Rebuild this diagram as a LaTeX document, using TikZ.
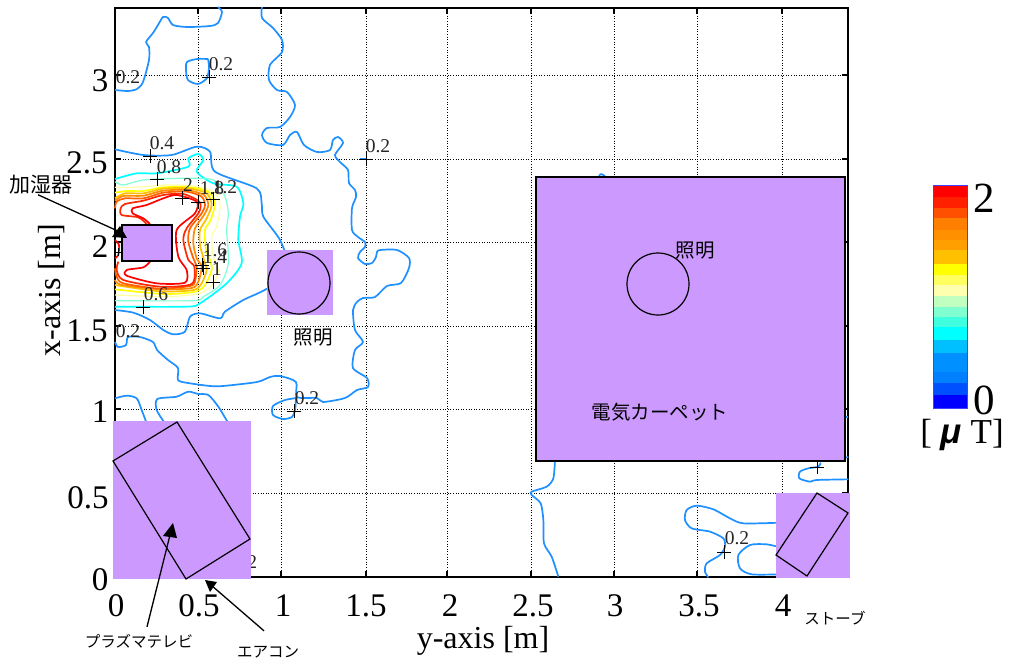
\documentclass[tikz,border=0pt]{standalone}
\usepackage{fontspec}
\setmainfont{Liberation Serif}
\newfontfamily\cjk{Noto Sans CJK JP}
\definecolor{pur}{HTML}{CC99FF}
\definecolor{cA}{HTML}{1E90FF}
\definecolor{cB}{HTML}{00FFFF}
\definecolor{cC}{HTML}{7FFFD4}
\definecolor{cD}{HTML}{FFFFA0}
\definecolor{cE}{HTML}{FFFF00}
\definecolor{cF}{HTML}{FFC000}
\definecolor{cG}{HTML}{FF8C00}
\definecolor{cH}{HTML}{FF6000}
\definecolor{cI}{HTML}{FF2800}
\definecolor{cJ}{HTML}{FF0000}
\tikzset{
 griddot/.style={black,line width=.9pt,dash pattern=on .9pt off 1.7pt},
 frameln/.style={black,line width=1.8pt},
 tickln/.style={black,line width=1.3pt},
 contour/.style={line width=1.7pt,line join=round},
 thincont/.style={line width=1.2pt,line join=round},
 objbox/.style={draw=black,line width=1.3pt,fill=pur},
 objfree/.style={fill=pur,draw=none},
 objline/.style={draw=black,line width=1.2pt},
 ticklab/.style={font=\fontsize{33}{33}\selectfont,inner sep=0pt},
 axlab/.style={font=\fontsize{32}{32}\selectfont,inner sep=0pt},
 vallab/.style={font=\fontsize{19.5}{19.5}\selectfont,inner sep=0pt,text=black!85},
 jplab/.style={font=\cjk\fontsize{19.5}{20}\selectfont,inner sep=0pt,text=black},
 jpsmall/.style={font=\cjk\fontsize{15.5}{16}\selectfont,inner sep=0pt,text=black},
 arrln/.style={black,line width=1.3pt},
 z1/.style={x=.33333pt,y=-.33333pt,shift={(0pt,-130pt)}},
 z3/.style={x=.33333pt,y=-.33333pt,shift={(100pt,-300pt)}},
 z5/.style={x=.33333pt,y=-.33333pt,shift={(520pt,-440pt)}},
 z10/.style={x=.33333pt,y=-.33333pt,shift={(780pt,-300pt)}},
}
\newcommand{\curve}[2]{\draw[contour,#1] plot[smooth,tension=.45] coordinates {#2};}
\newcommand{\curvet}[2]{\draw[thincont,#1] plot[smooth,tension=.45] coordinates {#2};}
\begin{document}
\begin{tikzpicture}[x=1pt,y=-1pt]
\useasboundingbox (0,0) rectangle (1010,662);
\fill[white] (0,0) rectangle (1010,662);
% grid
\foreach \gx in {198,281,366,447,531,614,697,782}{
  \draw[griddot] (\gx,8) -- (\gx,577);
  \draw[tickln] (\gx,8) -- (\gx,14);
  \draw[tickln] (\gx,577) -- (\gx,571);
}
\foreach \gy in {75,159,242,326,409,493}{
  \draw[griddot] (115,\gy) -- (848,\gy);
  \draw[tickln] (115,\gy) -- (121,\gy);
  \draw[tickln] (848,\gy) -- (842,\gy);
}
\draw[frameln] (115,8) rectangle (848,577);
% 0.2 contours, upper and centre
\curve{cA}{(115,90)(128,91)(137,89)(143,82)(149,60)(149,47)(146,42)(153,33)(158,25)(163,17)(168,18)(173,25)(187,27)(210,26)(218,23)(222,12)(218,7)}
\curve{cA}{(208,59)(197,59)(187,62)(186,70)(188,80)(198,84)(207,78)(209,67)(208,59)}
\curve{cA}{(262,7)(262,18)(273,28)(282,40)(282,52)(270,65)(269,80)(277,90)(287,92)(295,105)(290,117)(280,127)(267,128)(262,135)(267,143)(283,145)(290,135)(297,132)(304,145)(317,152)(330,150)(333,140)(338,137)(343,143)(335,155)(340,162)(348,170)(349,183)(355,190)(356,197)(352,208)(352,230)(358,237)(365,242)(365,247)(360,252)(358,258)(365,264)(372,263)(376,257)(377,252)(380,250)(397,250)(409,258)(409,268)(401,283)(387,286)(375,297)(363,298)(357,302)(353,310)(355,330)(363,342)(355,350)(353,368)(367,378)(368,387)(357,390)(345,398)(323,402)(317,398)(297,397)(296,382)(280,376)(270,377)(257,382)(223,386)(210,386)(188,383)(178,380)(178,368)(168,360)(157,350)(153,342)(140,337)(128,337)(126,345)(118,347)(115,342)}
\curve{cA}{(297,398)(285,400)(273,406)(273,415)(283,419)(292,417)(295,410)(296,398)}
\curve{cA}{(360,159)(366,159)}
\curve{cA}{(599,176)(601,174)(605,176)}
% left field contours
\begin{scope}[z1]
\curve{cA}{(345,58)(430,75)(515,75)(590,50)(630,65)(645,125)(770,175)(785,220)(790,260)(840,330)(860,400)(810,470)(730,510)(675,545)(660,565)(600,550)(570,560)(555,605)(520,613)(490,600)(450,570)(400,548)(345,540)}
\curve{cB}{(345,147)(410,130)(470,130)(565,110)(565,85)(595,72)(610,90)(590,125)(640,160)(710,170)(730,220)(720,260)(715,330)(725,400)(680,460)(600,520)(560,530)(345,530)}
\curvet{cC}{(345,155)(370,165)(430,150)(540,145)(640,150)(675,200)(685,250)(680,300)(685,400)(660,465)(610,500)(580,512)(345,512)}
\curvet{cD}{(345,172)(400,172)(500,165)(580,168)(640,185)(660,225)(650,290)(635,320)(640,380)(655,420)(640,460)(600,490)(500,500)(345,495)}
\curve{cE}{(345,188)(380,183)(430,183)(490,172)(570,172)(625,185)(645,220)(632,270)(615,300)(618,360)(630,390)(635,420)(615,465)(585,485)(490,492)(345,478)}
\curve{cF}{(345,205)(375,190)(430,190)(490,176)(565,175)(620,190)(635,225)(620,265)(600,300)(600,345)(612,390)(620,420)(605,460)(580,480)(480,484)(345,465)}
\curve{cG}{(345,212)(370,198)(430,197)(490,182)(560,180)(612,195)(625,225)(612,255)(585,295)(580,340)(590,385)(605,410)(595,455)(575,474)(480,478)(365,465)(345,450)}
\curve{cH}{(345,235)(350,215)(375,205)(430,205)(490,188)(560,185)(605,200)(615,225)(605,250)(570,295)(565,335)(580,385)(590,410)(585,455)(570,468)(480,476)(370,460)(350,440)(345,415)}
\curve{cI}{(440,282)(415,262)(365,255)(362,235)(375,222)(430,212)(490,195)(550,192)(598,215)(598,245)(560,295)(550,330)(565,390)(583,410)(575,462)(480,470)(370,450)(350,420)(355,395)}
\curve{cJ}{(450,282)(430,265)(398,250)(398,235)(440,225)(490,205)(530,195)(590,215)(585,250)(530,300)(535,380)(560,420)(555,458)(470,460)(380,437)(380,420)(430,412)(450,395)}
\curve{cJ}{(345,330)(357,345)(355,375)(345,385)}
\end{scope}
% lower left
\begin{scope}[z3]
\curve{cA}{(45,295)(80,287)(110,295)(125,330)(140,370)}
\curve{cA}{(195,370)(170,330)(172,297)(230,290)(265,275)(295,282)(325,285)(355,320)(385,370)}
\end{scope}
% lower right
\begin{scope}[z5]
\curve{cA}{(105,60)(100,115)(80,140)(35,155)(35,165)(62,190)(70,240)(72,310)(95,350)(115,410)}
\curve{cA}{(780,248)(670,250)(630,235)(580,208)(530,197)(500,210)(495,240)(515,265)(570,275)(610,295)(615,320)(600,345)(560,370)(555,395)(565,412)}
\curve{cA}{(780,322)(740,313)(690,315)(655,345)(660,385)(695,403)(780,403)}
\end{scope}
\begin{scope}[z10]
\curve{cA}{(122,488)(115,500)(85,505)(60,515)(58,535)(90,545)(110,540)(205,538)}
\curve{cA}{(195,352)(205,352)}
\curve{cA}{(195,473)(205,471)}
\end{scope}
% value markers
\draw plot[only marks,mark=+,mark size=7pt,mark options={line width=.85pt,black}] coordinates {(209,77)(150,156)(157,179)(182,198)(198,202)(213,199)(366,159)(202,265)(203,268)(213,282)(143,307)(294,411)(724,552)(817,467)};
\draw plot[only marks,mark=+,mark size=4pt,mark options={line width=.85pt,black}] coordinates {(118,252)};
% value labels
\foreach \lx/\ly/\lt [count=\li] in {128/77/0.2,221/64/0.2,378/146/0.2,162/143/0.4,169/167/0.8,188/185/2,212/188/1.8,225/187/1.2,215/250/1.6,215/257/1.4,217/269/1,156/294/0.6,128/331/0.2,307/398/0.2,737/538/0.2,245/562/0.2}
  \node[vallab] (val\li) at (\lx,\ly) {\lt};
% objects
\fill[objfree] (113,421) rectangle (251,579);
\draw[objline] (177,422) -- (113,461) -- (186,579) -- (250,539) -- cycle;
\draw[objbox] (122,225) rectangle (172,261);
\fill[objfree] (267,250) rectangle (333,315);
\draw[objline] (299,283) circle (31);
\draw[objbox] (536,177) rectangle (845,461);
\draw[objline] (658,284) circle (31);
\fill[objfree] (776,493) rectangle (850,578);
\draw[objline] (817,493) -- (848,513) -- (807,576) -- (776,555) -- cycle;
% tick labels
\foreach \tx/\tl [count=\ti] in {116/0,199/0.5,283/1,366/1.5,450/2,533/2.5,615/3,699/3.5,783/4}
  \node[ticklab] (bt\ti) at (\tx,606) {\tl};
\foreach \ty/\tl/\tx [count=\ti] in {81/3/100,163/2.5/87,247/2/100,331/1.5/87,412/1/100,498/0.5/88,580/0/100}
  \node[ticklab] (lt\ti) at (\tx,\ty) {\tl};
\node[axlab,rotate=90] (xaxis) at (52,290) {x-axis [m]};
\node[axlab] (yaxis) at (483,641) {y-axis [m]};
% japanese labels
\node[jplab] (lampa) at (313,338) {照明};
\node[jplab] (lampb) at (695,251) {照明};
\node[jplab] (carpet) at (660,412) {電気カーペット};
\node[font=\cjk\fontsize{21}{22}\selectfont,inner sep=0pt,text=black] (humid) at (41,185) {加湿器};
\node[jpsmall] (tv) at (139,641) {プラズマテレビ};
\node[jpsmall] (aircon) at (268,652) {エアコン};
\node[jpsmall] (stove) at (835,618) {ストーブ};
% arrows
\coordinate (ha) at (120,226); \coordinate (hb) at (112,237); \coordinate (hc) at (127,238);
\coordinate (ta) at (173,523); \coordinate (tb) at (163,536); \coordinate (tc) at (177,538);
\coordinate (aa) at (205,580); \coordinate (ab) at (217,582); \coordinate (ac) at (210,592);
\draw[arrln] (humid.south) ++(-3,0) -- (120,232);
\fill (ha) -- (hb) -- (hc) -- cycle;
\draw[arrln] (tv.north) ++(8,-7) -- (170,535);
\fill (ta) -- (tb) -- (tc) -- cycle;
\draw[arrln] (aircon.north) ++(-4,-15) -- (211,585);
\fill (aa) -- (ab) -- (ac) -- cycle;
% colour bar
\foreach \ya/\yb/\hc in {45/80/FF0000,80/115/FF2000,115/145/FF5000,145/180/FF8000,180/210/FF9000,210/240/FFA000,240/282/FFC000,282/315/FFFF00,315/345/FFFF60,345/378/FFFFB0,378/410/C0FFC0,410/440/80FFD0,440/470/40FFE0,470/510/00FFFF,510/548/00C0FF,548/605/0090FF,605/640/0080FF,640/675/0050FF,675/715/0000FF}{
  \definecolor{band}{HTML}{\hc}
  \fill[band] (933,170+\ya/3) rectangle (967,170.4+\yb/3);
}
\draw[blue!75!white,line width=.9pt] (933,185) rectangle (967,408);
\node[font=\fontsize{43}{43}\selectfont,inner sep=0pt] (cmax) at (984,198) {2};
\node[font=\fontsize{43}{43}\selectfont,inner sep=0pt] (cmin) at (984,400) {0};
\node[font=\fontsize{35}{35}\selectfont,inner sep=0pt] (unit) at (962,435) {[ {\fontspec{Liberation Sans}\bfseries\itshape μ} T]};
\end{tikzpicture}
\end{document}
